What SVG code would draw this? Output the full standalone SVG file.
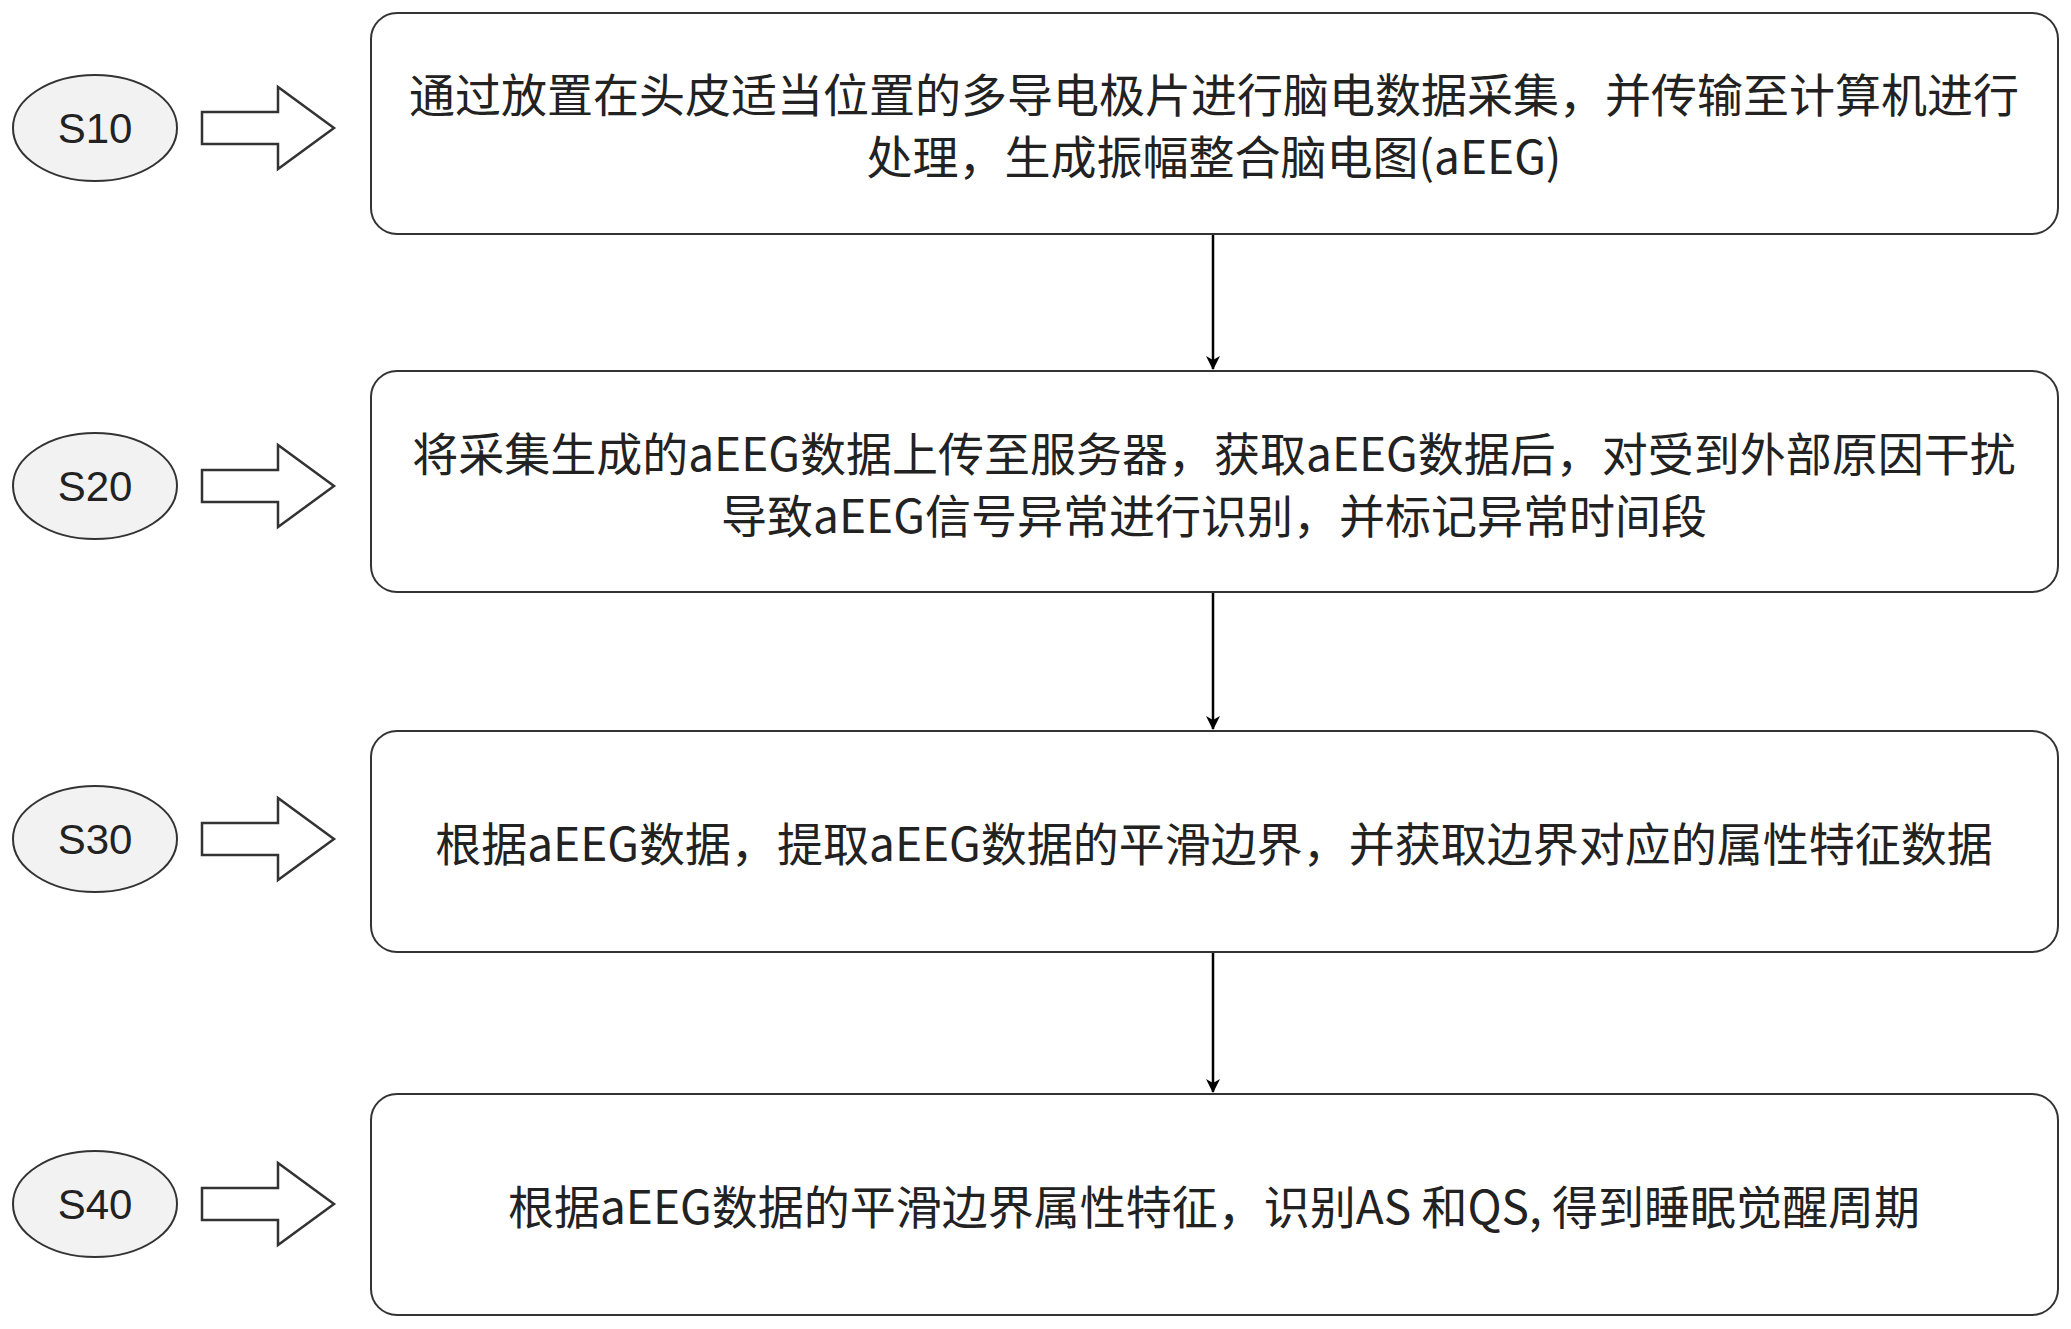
<svg xmlns="http://www.w3.org/2000/svg" width="2071" height="1329" viewBox="0 0 2071 1329">
<style>
.box{fill:#fff;stroke:#333;stroke-width:2}
.el{fill:#f2f2f2;stroke:#333;stroke-width:2}
.t{font-family:"Noto Sans CJK SC","Liberation Sans",sans-serif;font-size:46px;fill:#222;text-anchor:middle;dominant-baseline:central}
.s{font-family:"Liberation Sans",Arial,sans-serif;font-size:42px;fill:#222;text-anchor:middle;dominant-baseline:central}
.ba{fill:#fff;stroke:#333;stroke-width:2.5}
.c{stroke:#000;stroke-width:2.5;fill:none}
</style>
<defs>
<marker id="ah" markerWidth="14" markerHeight="14" refX="13" refY="7" orient="auto" markerUnits="userSpaceOnUse" viewBox="0 0 14 14"><path d="M0,0 L14,7 L0,14 L4,7 z" fill="#000"/></marker>
<path id="blk" d="M0,-16 L76,-16 L76,-41 L132,0 L76,41 L76,16 L0,16 z"/>
</defs>
<g id="connectors">
<line class="c" x1="1213" y1="234" x2="1213" y2="369" marker-end="url(#ah)"/>
<line class="c" x1="1213" y1="592" x2="1213" y2="729" marker-end="url(#ah)"/>
<line class="c" x1="1213" y1="952" x2="1213" y2="1092" marker-end="url(#ah)"/>
</g>
<g id="n1"><rect class="box" x="371" y="13" width="1687" height="221" rx="26"/>
<text class="t" x="1214" y="92">通过放置在头皮适当位置的多导电极片进行脑电数据采集，并传输至计算机进行</text>
<text class="t" x="1214" y="154">处理，生成振幅整合脑电图(aEEG)</text></g>
<g id="n2"><rect class="box" x="371" y="371" width="1687" height="221" rx="26"/>
<text class="t" x="1214" y="451">将采集生成的aEEG数据上传至服务器，获取aEEG数据后，对受到外部原因干扰</text>
<text class="t" x="1214" y="513">导致aEEG信号异常进行识别，并标记异常时间段</text></g>
<g id="n3"><rect class="box" x="371" y="731" width="1687" height="221" rx="26"/>
<text class="t" x="1214" y="841">根据aEEG数据，提取aEEG数据的平滑边界，并获取边界对应的属性特征数据</text></g>
<g id="n4"><rect class="box" x="371" y="1094" width="1687" height="221" rx="26"/>
<text class="t" x="1214" y="1204">根据aEEG数据的平滑边界属性特征，识别AS 和QS, 得到睡眠觉醒周期</text></g>
<g id="s10"><ellipse class="el" cx="95" cy="128" rx="82" ry="53"/><text class="s" x="95" y="128">S10</text><use href="#blk" class="ba" x="202" y="128"/></g>
<g id="s20"><ellipse class="el" cx="95" cy="486" rx="82" ry="53"/><text class="s" x="95" y="486">S20</text><use href="#blk" class="ba" x="202" y="486"/></g>
<g id="s30"><ellipse class="el" cx="95" cy="839" rx="82" ry="53"/><text class="s" x="95" y="839">S30</text><use href="#blk" class="ba" x="202" y="839"/></g>
<g id="s40"><ellipse class="el" cx="95" cy="1204" rx="82" ry="53"/><text class="s" x="95" y="1204">S40</text><use href="#blk" class="ba" x="202" y="1204"/></g>
</svg>
